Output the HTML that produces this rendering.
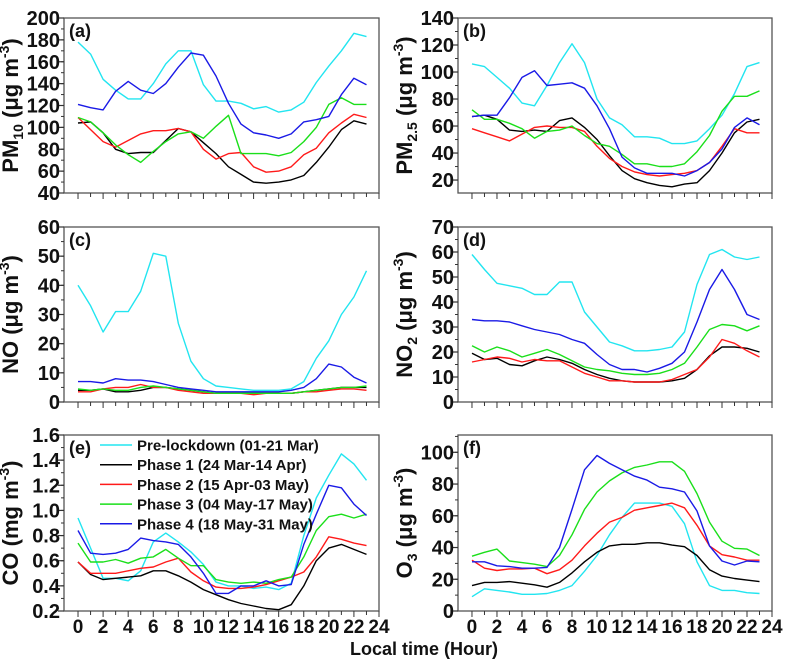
<!DOCTYPE html>
<html><head><meta charset="utf-8"><style>
html,body{margin:0;padding:0;background:#fff}
svg{display:block;font-family:"Liberation Sans",Arial,sans-serif;font-weight:bold}
</style></head><body>
<svg id="chart" width="790" height="666" viewBox="0 0 790 666"></svg>
<script>
const hours = [0,1,2,3,4,5,6,7,8,9,10,11,12,13,14,15,16,17,18,19,20,21,22,23];
const seriesNames = ["Pre-lockdown (01-21 Mar)","Phase 1 (24 Mar-14 Apr)","Phase 2 (15 Apr-03 May)","Phase 3 (04 May-17 May)","Phase 4 (18 May-31 May)"];
const seriesColors = ["#22e5f0","#000000","#ff1a1a","#1adf1a","#1a1ae6"];
const xTicks = [0,2,4,6,8,10,12,14,16,18,20,22,24];

const pm10Pre = [178,167,144,134,126,126,140,158,170,170,139,124,124,122,117,119,114,116,123,141,156,170,186,183];
const pm10P1 = [104,105,95,80,76,77,77,88,99,96,86,76,64,57,50,49,50,52,56,68,82,98,106,103];
const pm10P2 = [109,98,87,82,88,94,97,97,99,96,80,71,76,77,64,59,60,64,75,81,95,104,112,109];
const pm10P3 = [109,105,95,84,75,68,78,87,94,96,90,101,111,76,76,76,74,77,87,100,121,127,121,121];
const pm10P4 = [121,118,116,133,142,134,131,140,155,168,166,147,122,103,95,93,90,94,105,107,110,130,145,139];

const pm25Pre = [106,104,96,88,77,75,90,107,121,107,80,66,61,52,52,51,47,47,49,58,68,84,104,107];
const pm25P1 = [67,68,65,57,56,57,56,64,66,59,50,38,27,21,18,16,15,17,18,27,40,55,63,65];
const pm25P2 = [58,55,52,49,54,59,60,59,59,56,45,36,30,26,24,23,24,25,27,33,45,58,55,55];
const pm25P3 = [72,65,65,62,58,51,56,57,60,53,47,45,39,32,32,30,30,32,41,53,71,82,82,86];
const pm25P4 = [67,68,68,81,96,101,90,91,92,88,75,58,37,29,25,25,25,23,27,33,43,59,66,61];

const noPre = [40,33,24,31,31,38,51,50,27,14,8,5.5,5,4.5,4,4,4,4.5,7,15,21,30,36,45];
const noP1 = [4,4,4.5,3.5,3.5,4,5,5,4.5,4,3.5,3,3,3,3,3,3,3,3.5,4,4.5,5,5,5];
const noP2 = [3.5,3.5,4.5,5,5,6,5,5,4,3.5,3,3,3,3,2.5,3,3,3,3.5,3.5,4,4.5,4.5,4];
const noP3 = [4.5,4,4.5,4,4,5,5.5,5,4.5,4,3.5,3,3,3,3,3,3,3,3.5,4,4.5,5,5,5.5];
const noP4 = [7,7,6.5,8,7.5,7.5,7,6,5,4.5,4,3.5,3.5,3.5,3.5,3.5,3.5,4,5,8,13,12,8.5,6.5];

const no2Pre = [59,53,47.5,46.5,45.5,43,43,48,48,36,30,24,22.5,20.5,20.5,21,22,28,47,59,61,58,57,58];
const no2P1 = [19.5,17,17.5,15,14.5,16.5,18,17,15.5,13,11,9.5,8.5,8,8,8,8.5,9.5,13,18.5,22,22,21.5,20];
const no2P2 = [16,17,18,17.5,16,17,16.5,16.5,14,11.5,10,8.5,8.5,8,8,8,9,11,13,18,25,23.5,20.5,18];
const no2P3 = [22.5,20,22,20.5,18,19.5,21,19,16.5,14,13,12.5,11.5,11,11,11.5,13,15.5,22,29,31,30.5,28.5,30.5];
const no2P4 = [33,32.5,32.5,32,30.5,29,28,27,25,23.5,19,15,13,13,12,13.5,15.5,20,32,45,53,45,35,33];

const coPre = [0.94,0.70,0.46,0.46,0.44,0.52,0.75,0.82,0.75,0.67,0.57,0.43,0.40,0.40,0.38,0.39,0.37,0.42,0.80,1.10,1.28,1.45,1.37,1.24];
const coP1 = [0.59,0.49,0.45,0.46,0.47,0.48,0.52,0.52,0.48,0.43,0.37,0.33,0.29,0.26,0.24,0.22,0.21,0.25,0.40,0.60,0.70,0.73,0.69,0.65];
const coP2 = [0.59,0.50,0.50,0.50,0.52,0.54,0.55,0.59,0.62,0.51,0.44,0.39,0.38,0.38,0.39,0.41,0.44,0.47,0.51,0.63,0.79,0.77,0.74,0.72];
const coP3 = [0.74,0.59,0.59,0.61,0.58,0.62,0.63,0.69,0.62,0.56,0.56,0.45,0.43,0.42,0.43,0.42,0.45,0.47,0.63,0.84,0.95,0.97,0.94,0.97];
const coP4 = [0.84,0.66,0.65,0.66,0.69,0.78,0.76,0.75,0.73,0.63,0.50,0.34,0.34,0.40,0.40,0.44,0.40,0.41,0.73,0.97,1.20,1.18,1.05,0.96];

const o3Pre = [9,14,13,12,10.5,10.5,11,13,16,25,35,48,59,68,68,68,66,55,31,16,13,13,11.5,11];
const o3P1 = [16,18,18,18.5,17.5,16.5,15,18,24,31,37,41,42,42,43,43,41.5,40.5,35,26,22,20.5,19.5,18.5];
const o3P2 = [32,27,25.5,26.5,26.5,27,23.5,26,32,41,49,56,59,63.5,65,66.5,68,65,54,41,35.5,34,32,32];
const o3P3 = [34.5,37,39,31.5,30.5,29.5,28,35,48,64,75,82,87,90.5,92,94,94,88,74,56,44,39.5,39,35];
const o3P4 = [31,31,28.5,28,27,27,27.5,40,64,89,98,93,89,85,82.5,78,77,75,63,41,31.5,29,31.5,31];

const yTicksA = [40,60,80,100,120,140,160,180,200];
const yTicksB = [20,40,60,80,100,120,140];
const yTicksC = [0,10,20,30,40,50,60];
const yTicksD = [0,10,20,30,40,50,60,70];
const yTicksE = [0.2,0.4,0.6,0.8,1.0,1.2,1.4,1.6];
const yTicksF = [0,20,40,60,80,100];

const NS = "http://www.w3.org/2000/svg";
const svg = document.getElementById("chart");
function mk(tag, attrs, parent){
  const e = document.createElementNS(NS, tag);
  for (const k in attrs) e.setAttribute(k, attrs[k]);
  (parent||svg).appendChild(e);
  return e;
}

const panels = [
  {id:"a", L:64, R:379, T:18, B:193, ymin:40, ymax:200, ticks:yTicksA, minor:10, dec:0, series:[pm10Pre,pm10P1,pm10P2,pm10P3,pm10P4], label:["PM","10"," (\u03BCg m","-3",")"], xlab:false},
  {id:"b", L:458, R:772, T:18, B:193, ymin:10.4, ymax:140, ticks:yTicksB, minor:10, dec:0, series:[pm25Pre,pm25P1,pm25P2,pm25P3,pm25P4], label:["PM","2.5"," (\u03BCg m","-3",")"], xlab:false},
  {id:"c", L:64, R:379, T:227, B:402, ymin:0, ymax:60, ticks:yTicksC, minor:5, dec:0, series:[noPre,noP1,noP2,noP3,noP4], label:["NO","",' (\u03BCg m',"-3",")"], xlab:false},
  {id:"d", L:458, R:772, T:227, B:402, ymin:0, ymax:70, ticks:yTicksD, minor:5, dec:0, series:[no2Pre,no2P1,no2P2,no2P3,no2P4], label:["NO","2"," (\u03BCg m","-3",")"], xlab:false},
  {id:"e", L:64, R:379, T:435, B:611, ymin:0.2, ymax:1.6, ticks:yTicksE, minor:0.1, dec:1, series:[coPre,coP1,coP2,coP3,coP4], label:["CO","", " (mg m","-3",")"], xlab:true},
  {id:"f", L:458, R:772, T:435, B:611, ymin:0, ymax:110.9, ticks:yTicksF, minor:10, dec:0, series:[o3Pre,o3P1,o3P2,o3P3,o3P4], label:["O","3"," (\u03BCg m","-3",")"], xlab:true}
];

panels.forEach(p=>{
  const g = mk("g",{});
  
  
  const x0 = p.L + (p.R-p.L)*0.0445;
  const xs = h => x0 + (p.R - x0) * h / 24;
  const ys = v => p.B - (v - p.ymin) / (p.ymax - p.ymin) * (p.B - p.T);
  // frame
  const fr = mk("rect",{x:p.L,y:p.T,width:p.R-p.L,height:p.B-p.T,fill:"none",stroke:"#555","stroke-width":1.3},g);
  
  
  // x ticks
  for(let h=0; h<=24; h++){
    mk("line",{x1:xs(h),x2:xs(h),y1:p.B,y2:p.B+(h%2===0?6:4),stroke:"#333","stroke-width":1},g);
  }
  if(p.xlab){
    xTicks.forEach(h=>{
      const t = mk("text",{x:xs(h),y:p.B+22,"text-anchor":"middle","font-size":19,fill:"#111"},g);
      t.textContent = h;
      
      
    });
  }
  // y ticks
  const step = p.ticks[1]-p.ticks[0];
  for(let v=p.ticks[0]-step; v<=p.ymax+1e-9; v+=p.minor){
    if(v < p.ymin-1e-9) continue;
    mk("line",{x1:p.L-3,x2:p.L,y1:ys(v),y2:ys(v),stroke:"#333","stroke-width":1},g);
  }
  p.ticks.forEach(v=>{
    mk("line",{x1:p.L-6,x2:p.L,y1:ys(v),y2:ys(v),stroke:"#333","stroke-width":1.2},g);
    const t = mk("text",{x:p.L-4,y:ys(v)+7,"text-anchor":"end","font-size":20,fill:"#111"},g);
    t.textContent = v.toFixed(p.dec);
    
    
  });
  // series
  p.series.forEach((arr,i)=>{
    const pts = hours.map((h,k)=>xs(h).toFixed(1)+","+ys(arr[k]).toFixed(1)).join(" ");
    const pl = mk("polyline",{points:pts,fill:"none",stroke:seriesColors[i],"stroke-width":1.4,"stroke-linejoin":"round"},g);
    
    
  });
  // panel letter
  const pt = mk("text",{x:p.L+5,y:p.T+19,"font-size":18,fill:"#111"},g);
  pt.textContent = "("+p.id+")";
  
  
  // y axis title
  const cx = p.L - 46, cy = (p.T+p.B)/2;
  const yt = mk("text",{x:cx,y:cy,"text-anchor":"middle","font-size":22,fill:"#111",transform:"rotate(-90 "+cx+" "+cy+")"},g);
  
  
  const L = p.label;
  const s0 = mk("tspan",{},yt); s0.textContent = L[0];
  if(L[1]){ const s1 = mk("tspan",{"font-size":14,dy:5},yt); s1.textContent = L[1]; }
  const s2 = mk("tspan",{dy:L[1]?-5:0},yt); s2.textContent = L[2];
  const s3 = mk("tspan",{"font-size":14,dy:-9},yt); s3.textContent = L[3];
  const s4 = mk("tspan",{dy:9},yt); s4.textContent = L[4];
});

// legend in panel e
const lg = mk("g",{});


seriesNames.forEach((n,i)=>{
  const y = 445 + i*19.7;
  const ln = mk("line",{x1:100,x2:132,y1:y,y2:y,stroke:seriesColors[i],"stroke-width":1.5},lg);
  
  
  const t = mk("text",{x:137,y:y+5.5,"font-size":15,fill:"#111"},lg);
  t.textContent = n;
  
  
});

const xt = mk("text",{x:424,y:655,"text-anchor":"middle","font-size":18,fill:"#111"});
xt.textContent = "Local time (Hour)";


</script>
</body></html>
